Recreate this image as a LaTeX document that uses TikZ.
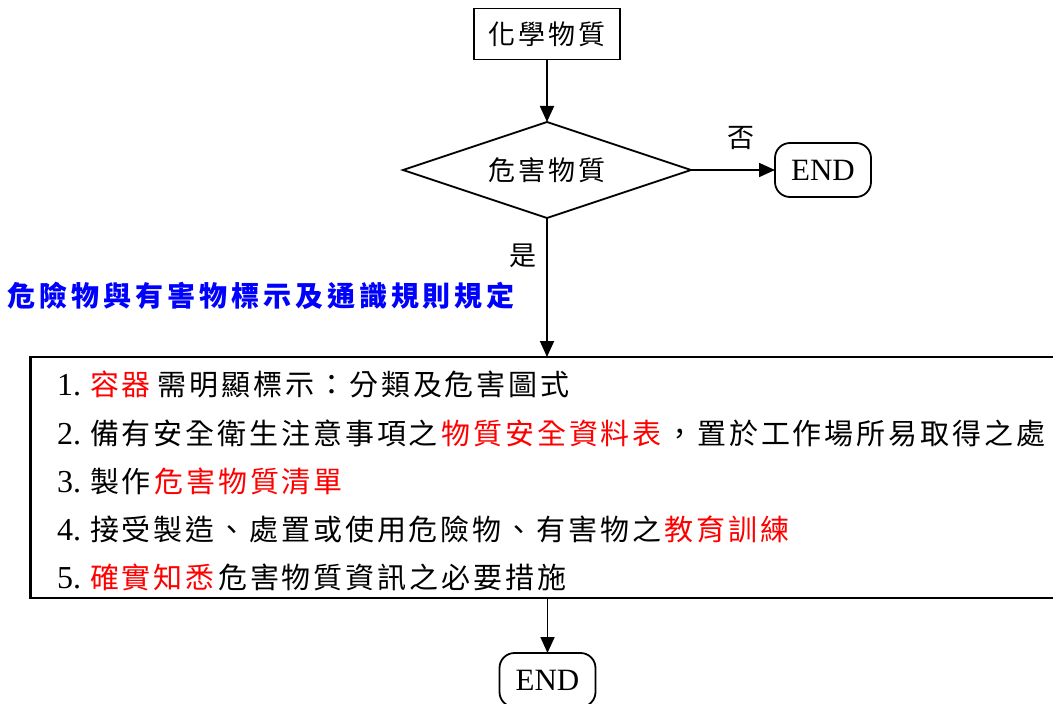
\documentclass[tikz,border=0pt]{standalone}
\usepackage{fontspec}
\setmainfont{Liberation Serif}
\newfontfamily\cjk{Noto Sans CJK TC}[LetterSpace=10]
\newfontfamily\cjktitle{Noto Sans CJK TC}[LetterSpace=14]
\usetikzlibrary{shapes.geometric,arrows.meta}
\newcommand{\gp}{\hspace{3.5pt}}
\begin{document}
\begin{tikzpicture}[x=1pt,y=-1pt,
  every node/.style={inner sep=0pt, outer sep=0pt},
  arr/.style={line width=1.8pt,-{Triangle[length=16pt,width=14pt]}},
  proc/.style={draw,line width=1.8pt,minimum width=146pt,minimum height=51pt},
  term/.style={draw,line width=1.8pt,rounded corners=15pt,minimum width=96pt,minimum height=54pt},
  dec/.style={draw,diamond,aspect=3,line width=1.8pt,minimum width=288pt,minimum height=96pt},
  big/.style={draw,line width=2.2pt,minimum width=1030pt,minimum height=241pt},
  smallcjk/.style={font=\cjk\fontsize{27}{32}\selectfont},
  linetxt/.style={anchor=west,font=\fontsize{32}{36}\selectfont},
  endtxt/.style={font=\fontsize{31}{34}\selectfont}
]
\useasboundingbox (0,0) rectangle (1053,704);
\node[proc,smallcjk] (chem) at (547,34) {化學物質};
\node[dec,smallcjk] (dia) at (547,170) {危害物質};
\node[term,endtxt] (end1) at (823,170) {END};
\node[smallcjk] (no) at (741,138) {否};
\node[smallcjk] (yes) at (523,256) {是};
\node[anchor=west,text=blue,font=\cjktitle\bfseries\fontsize{28}{32}\selectfont] (title) at (8,296) {危險物與有害物標示及通識規則規定};
\node[big] (box) at (545.5,477.5) {};
\node[linetxt] (l1) at (57,384) {\makebox[33pt][l]{1.}{\cjk\fontsize{29}{34}\selectfont\color{red}容器}\gp\gp{\cjk\fontsize{29}{34}\selectfont 需明顯標示：分類及危害圖式}};
\node[linetxt] (l2) at (57,433) {\makebox[33pt][l]{2.}{\cjk\fontsize{29}{34}\selectfont 備有安全衛生注意事項之}\gp{\cjk\fontsize{29}{34}\selectfont\color{red}物質安全資料表}\gp{\cjk\fontsize{29}{34}\selectfont ，置於工作場所易取得之處}};
\node[linetxt] (l3) at (57,481) {\makebox[33pt][l]{3.}{\cjk\fontsize{29}{34}\selectfont 製作}\gp{\cjk\fontsize{29}{34}\selectfont\color{red}危害物質清單}};
\node[linetxt] (l4) at (57,529) {\makebox[33pt][l]{4.}{\cjk\fontsize{29}{34}\selectfont 接受製造、處置或使用危險物、有害物之}\gp{\cjk\fontsize{29}{34}\selectfont\color{red}教育訓練}};
\node[linetxt] (l5) at (57,577) {\makebox[33pt][l]{5.}{\cjk\fontsize{29}{34}\selectfont\color{red}確實知悉}\gp{\cjk\fontsize{29}{34}\selectfont 危害物質資訊之必要措施}};
\node[term,endtxt] (end2) at (547.5,680) {END};
\draw[arr] (chem) -- (dia);
\draw[arr] (dia.east) -- (end1);
\draw[arr] (dia.south) -- (dia.south |- box.north);
\draw[arr] (box.south -| end2) -- (end2);
\end{tikzpicture}
\end{document}
